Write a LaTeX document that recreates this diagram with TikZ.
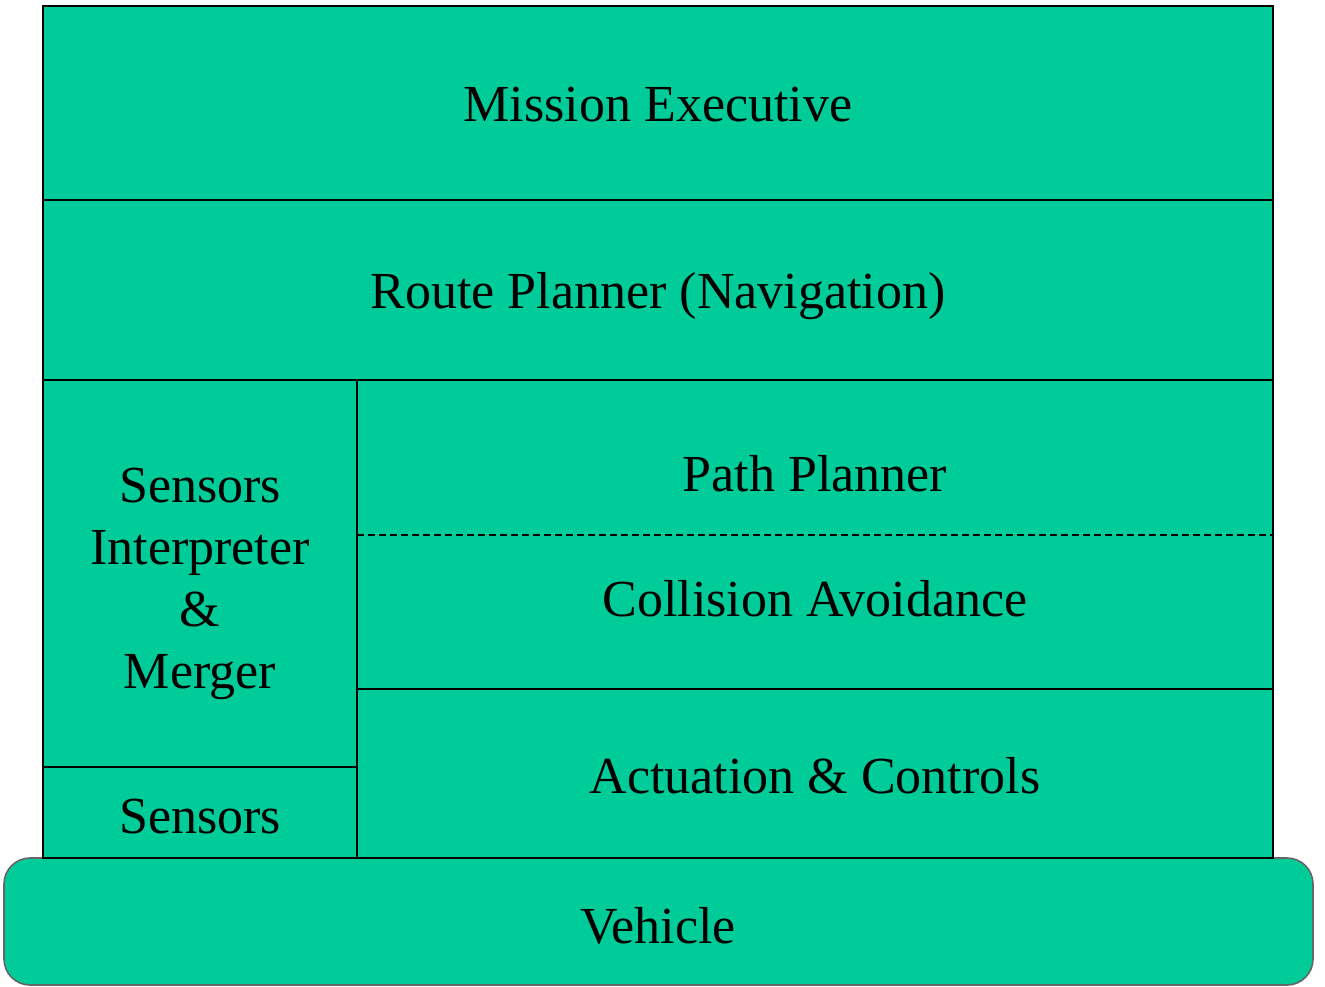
\documentclass[tikz,border=0pt]{standalone}
\usepackage{fontspec}
\setmainfont{Liberation Serif}
\definecolor{layergreen}{RGB}{0,204,153}

\begin{document}
\begin{tikzpicture}[x=0.5pt, y=-0.5pt, font=\fontsize{26}{31}\selectfont]
    \useasboundingbox (0,0) rectangle (1325,986);

    % Vehicle base
    \draw[fill=layergreen, draw=black!60, line width=0.8pt, rounded corners=13pt] (4,858) rectangle (1313,985);

    % Layer stack
    \draw[fill=layergreen, line width=1pt] (43,6) rectangle (1273,858);
    \draw[line width=1pt] (43,200) -- (1273,200);
    \draw[line width=1pt] (43,380) -- (1273,380);
    \draw[line width=1pt] (357,380) -- (357,858);
    \draw[line width=0.7pt, dash pattern=on 3.5pt off 2pt] (357,535) -- (1273,535);
    \draw[line width=1pt] (357,689) -- (1273,689);
    \draw[line width=1pt] (43,767) -- (357,767);

    % Layer names
    \node[anchor=base] (mission) at (658,121) {Mission Executive};
    \node[anchor=base] (route) at (658,308) {Route Planner (Navigation)};
    \node[anchor=base] (path) at (815,491) {Path Planner};
    \node[anchor=base] (collision) at (815,616) {Collision Avoidance};
    \node[anchor=base] (actuation) at (815,793) {Actuation \& Controls};
    \node[align=center] (interp) at (200,584) {Sensors\\Interpreter\\\&\\Merger};
    \node[anchor=base] (sensors) at (200,833) {Sensors};
    \node[anchor=base] (vehicle) at (658,943) {Vehicle};
\end{tikzpicture}
\end{document}
